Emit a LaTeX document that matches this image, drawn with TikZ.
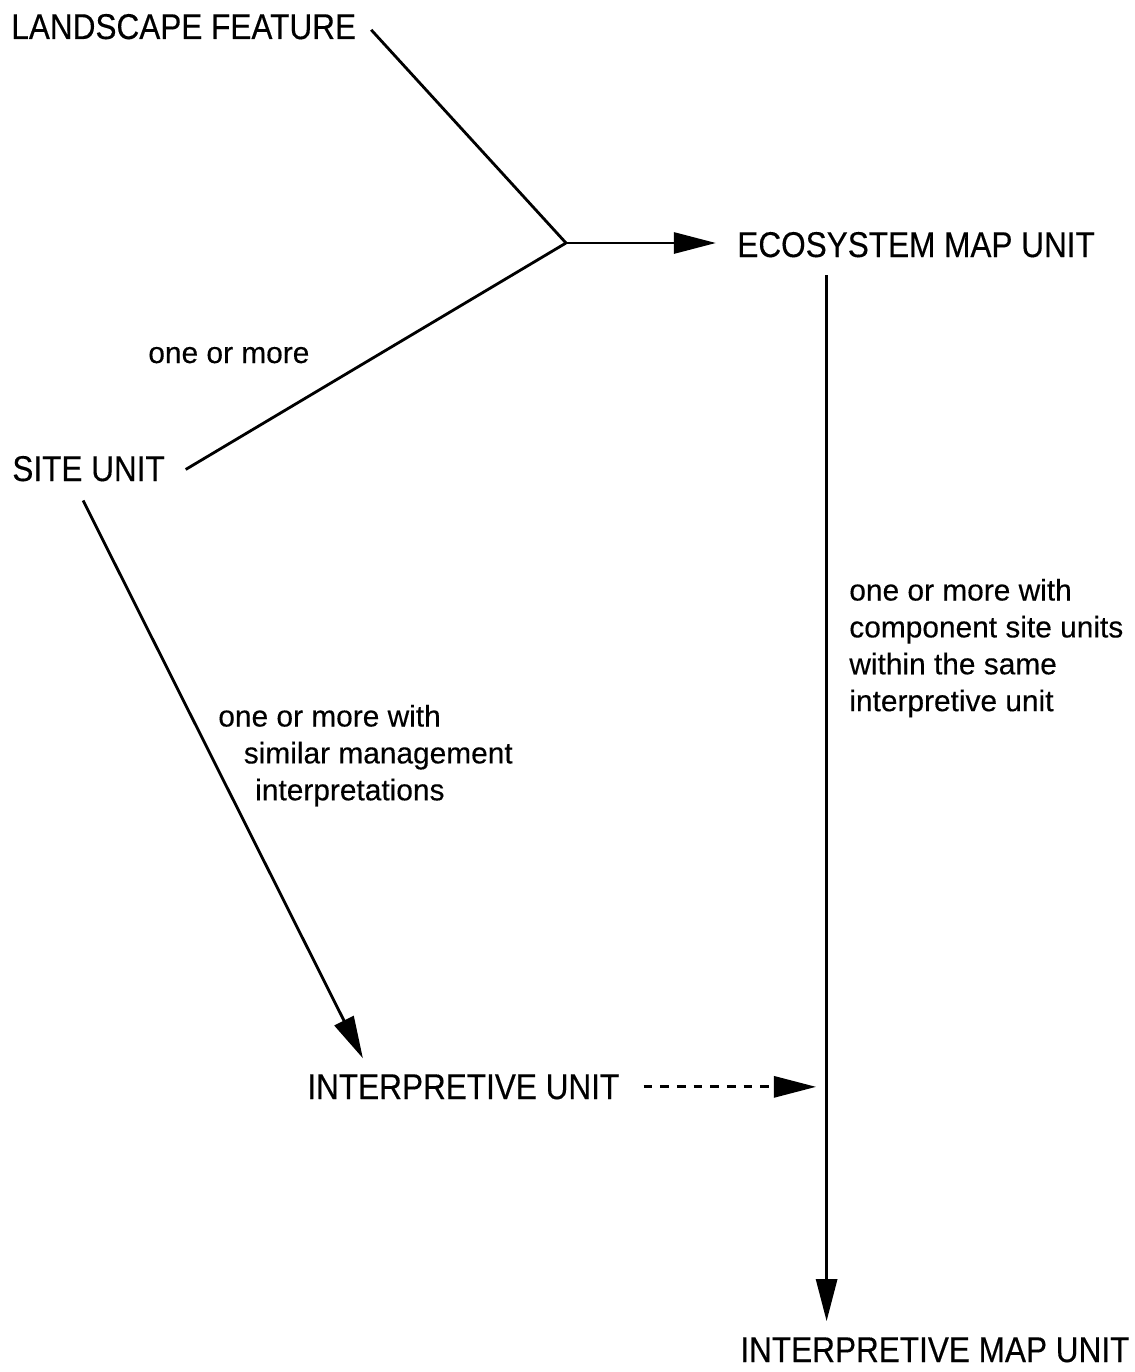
\documentclass[tikz,border=0pt]{standalone}
\usepackage{fontspec}
\setmainfont[FakeBold=0.3]{Liberation Sans}
\newfontfamily\capsfont[FakeStretch=0.88,FakeBold=0.3]{Liberation Sans}
\usetikzlibrary{arrows.meta,positioning}

\begin{document}
\begin{tikzpicture}[
  x=0.02cm, y=-0.02cm,
  unitnode/.style={inner sep=0pt, anchor=base west, font=\capsfont\fontsize{20.4pt}{24pt}\selectfont},
  notenode/.style={inner sep=0pt, anchor=north west, align=left, font=\fontsize{17pt}{21pt}\selectfont},
  arr/.style={line width=1.6pt, -{Triangle[length=24pt,width=12pt]}}
]
\useasboundingbox (0,0) rectangle (1134,1372);
\node[unitnode] (lf) at (11,39) {LANDSCAPE FEATURE};
\node[unitnode] (emu) at (737,257) {ECOSYSTEM MAP UNIT};
\node[unitnode] (su) at (12,481) {SITE UNIT};
\node[unitnode] (iu) at (307,1099) {INTERPRETIVE UNIT};
\node[unitnode] (imu) at (740,1362) {INTERPRETIVE MAP UNIT};
\node[notenode, anchor=base west] (om) at (148,363) {one or more};
\node[notenode] (simnote) at (218,704.5) {one or more with\\\hspace*{14.5pt}similar management\\\hspace*{21pt}interpretations};
\node[notenode] (compnote) at (849,578.5) {one or more with\\component site units\\within the same\\interpretive unit};
\coordinate (j) at (566,243);
%% joining lines
\draw[line width=1.6pt, shorten <=12.5pt] (lf.north east) -- (j);
\draw[line width=1.6pt, shorten <=13.6pt] (su.south east) -- (j);
\draw[arr, shorten >=12pt] (j) -- (j -| emu.west);
\draw[arr, shorten <=12pt, shorten >=10pt] ([xshift=-8.5pt]su.south) -- ([xshift=36.3pt]iu.north west);
\draw[arr, shorten <=10pt, shorten >=9pt] ([xshift=51pt]emu.south west) coordinate (v) -- (v |- imu.north);
\draw[arr, dash pattern=on 5pt off 4.5pt, shorten <=13.6pt, shorten >=6pt] (iu.east) -- (v |- iu.east);
\end{tikzpicture}
\end{document}
